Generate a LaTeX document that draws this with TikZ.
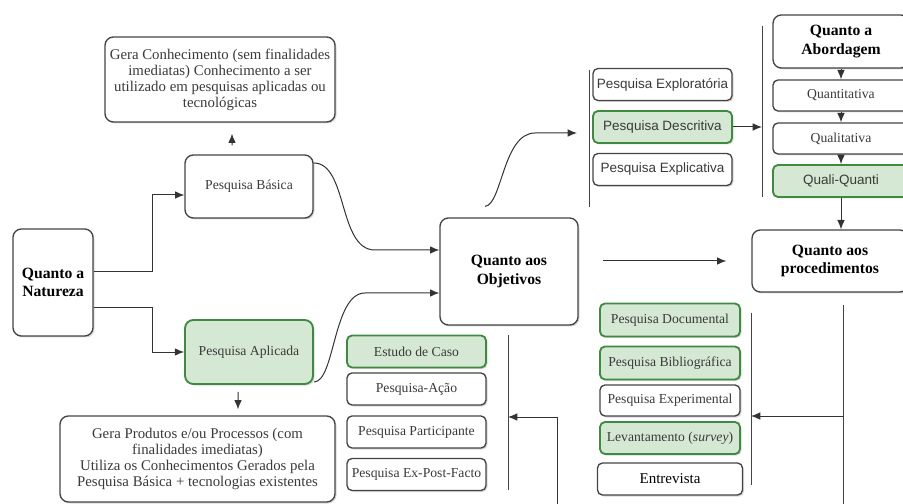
\documentclass[tikz,border=0pt]{standalone}
\usepackage{fontspec}
\setmainfont{Liberation Serif}
\setsansfont{Liberation Sans}
\usepackage{xcolor}
\usepackage{tikz}
\usetikzlibrary{shapes,arrows.meta,shadows}

\definecolor{boxline}{HTML}{444444}
\definecolor{boxtext}{HTML}{3A3A3A}
\definecolor{selfill}{HTML}{D5E8D4}
\definecolor{selline}{HTML}{3E8A3E}

\begin{document}
\begin{tikzpicture}[x=0.6pt, y=-0.6pt, node distance=25.5pt, auto]
	% % % % % % % % % % % % % % % % % % % % % % % % % % % % % %
	% Define styles
	\tikzstyle{block} = [rectangle, draw=boxline, fill=white, line width=0.8pt, rounded corners=3pt,
					     text=boxtext, align=center, inner sep=1pt, font=\fontsize{8.2}{9.5}\selectfont,
					     drop shadow={shadow xshift=0.9pt, shadow yshift=-0.9pt, opacity=0.3}]
	\tikzstyle{small} = [block, minimum width=83.4pt, minimum height=19.2pt]
	\tikzstyle{sans} = [font=\sffamily\fontsize{8.1}{9.5}\selectfont]
	\tikzstyle{big} = [block, rounded corners=5pt, font=\fontsize{8.9}{9.6}\selectfont]
	\tikzstyle{title} = [block, rounded corners=5pt, text=black, font=\bfseries\fontsize{9.4}{11}\selectfont]
	\tikzstyle{chosen} = [fill=selfill, draw=selline, line width=1.1pt]
	\tikzstyle{line} = [draw, -{Latex[length=5.6pt, width=4.6pt]}, line width=0.6pt, color=black!80]
	\tikzstyle{bar} = [draw, line width=0.6pt, color=boxline]

	\useasboundingbox (0,0) rectangle (903,504);
	\clip (0,0) rectangle (903,504);

	% % % % % % % % % % % % % % % % % % % % % % % % % % % % % %
	% Place nodes
	% natureza
	\node [title, minimum width=48pt, minimum height=64.2pt] (nat) at (53,282.5) {Quanto a\\ Natureza};
	\node [block, rounded corners=5pt, minimum width=76.8pt, minimum height=37.8pt] (pb) at (249,186.5) {Pesquisa Básica};
	\node [block, chosen, rounded corners=5pt, minimum width=76.8pt, minimum height=38.4pt] (pa) at (249,352) {Pesquisa Aplicada};
	\node [big, minimum width=138pt, minimum height=51pt] (gk) at (220,79.5)
		{Gera Conhecimento (sem finalidades\\ imediatas) Conhecimento a ser\\ utilizado em pesquisas aplicadas ou\\ tecnológicas};
	\node [big, minimum width=165pt, minimum height=51.6pt] (gp) at (197.5,459)
		{Gera Produtos e/ou Processos (com\\ finalidades imediatas)\\ Utiliza os Conhecimentos Gerados pela\\ Pesquisa Básica + tecnologias existentes};

	% objetivos
	\node [title, minimum width=82.8pt, minimum height=64.2pt] (obj) at (509,271.5) {Quanto aos\\ Objetivos};
	\node [small, sans] (exp) at (662.5,84.5) {Pesquisa Exploratória};
	\node [small, sans, chosen, below of=exp] (des) {Pesquisa Descritiva};
	\node [small, sans, below of=des] (xpl) {Pesquisa Explicativa};

	% abordagem
	\node [title, minimum width=81.6pt, minimum height=31.8pt] (abo) at (841,41.5) {Quanto a\\ Abordagem};
	\node [small, minimum width=81.6pt, minimum height=18.6pt, node distance=32.4pt, below of=abo] (qt) {Quantitativa};
	\node [small, minimum width=81.6pt, minimum height=18.6pt, node distance=25.8pt, below of=qt] (ql) {Qualitativa};
	\node [small, sans, chosen, minimum width=81.6pt, node distance=25.5pt, below of=ql] (qq) {Quali-Quanti};

	% procedimentos
	\node [title, minimum width=93.6pt, minimum height=37.2pt] (proc) at (830,261) {Quanto aos\\ procedimentos};
	\node [small, chosen, minimum width=84pt, minimum height=19.8pt] (doc) at (670,320) {Pesquisa Documental};
	\node [small, chosen, minimum width=84pt, minimum height=19.8pt, node distance=25.8pt, below of=doc] (bib) {Pesquisa Bibliográfica};
	\node [small, minimum width=84pt, minimum height=18.6pt, node distance=22.5pt, below of=bib] (xpm) {Pesquisa Experimental};
	\node [small, chosen, minimum width=84pt, node distance=22.5pt, below of=xpm] (lev) {Levantamento (\textit{survey})};
	\node [small, minimum width=87pt, text=black, font=\fontsize{9}{10}\selectfont, node distance=24.6pt, below of=lev] (ent) {Entrevista};

	% lower left
	\node [small, chosen] (est) at (416.5,351.5) {Estudo de Caso};
	\node [small, node distance=22.5pt, below of=est] (acao) {Pesquisa-Ação};
	\node [small, node distance=25.8pt, below of=acao] (part) {Pesquisa Participante};
	\node [small, node distance=25.5pt, below of=part] (epf) {Pesquisa Ex-Post-Facto};

	% brackets and free ends
	\coordinate (barA1) at (589,70);
	\coordinate (barA2) at (589,207);
	\coordinate (toA) at (577,133);
	\coordinate (barB1) at (762,26);
	\coordinate (barB2) at (762,197);
	\coordinate (barC1) at (751,313);
	\coordinate (barC2) at (751,485);
	\coordinate (procA) at (843,305);
	\coordinate (procB) at (843,510);
	\coordinate (hookC) at (843,416);
	\coordinate (barD1) at (508,335);
	\coordinate (barD2) at (508,490);
	\coordinate (hookD1) at (557,510);
	\coordinate (hookD2) at (557,417);

	% % % % % % % % % % % % % % % % % % % % % % % % % % % % % %
	% Draw edges
	\path [bar] (barA1) -- (barA2);
	\path [bar] (barB1) -- (barB2);
	\path [bar] (barC1) -- (barC2);
	\path [bar] (barD1) -- (barD2);
	% % natureza
	\path [line] ([yshift=6.3pt]nat.east) -- ++(59,0) |- ([yshift=-5.1pt]pb.west);
	\path [line] ([yshift=-15.3pt]nat.east) -- ++(59,0) |- (pa.west);
	\path [line, shorten <=5.4pt, shorten >=6.6pt] ([xshift=-10.2pt]pb.north) -- ([xshift=7.2pt]gk.south);
	\path [line, shorten <=4.2pt, shorten >=3.6pt] ([xshift=-6.6pt]pa.south) -- ([xshift=24.3pt]gp.north);
	% % to objetivos
	\path [line] ([yshift=14.1pt]pb.east) .. controls (348,163) and (338,250) .. (375,250) -- ([yshift=12.9pt]obj.west);
	\path [line] ([yshift=-18pt]pa.east) .. controls (335,382) and (333,293) .. (365,293) -- ([yshift=-12.9pt]obj.west);
	\path [line] ([xshift=-14.4pt, yshift=6.6pt]obj.north) .. controls (502,205) and (503,133) .. (535,133) -- (toA);
	% % abordagem
	\path [line] (des.east) -- (des.east -| barB1);
	\path [line] (abo) -- (qt);
	\path [line] (qt) -- (ql);
	\path [line] (ql) -- (qq);
	\path [line] (qq.south) -- (qq.south |- proc.north);
	% % procedimentos
	\path [line, shorten <=14.4pt, shorten >=15pt] (obj.east |- proc.west) -- (proc.west);
	\path [bar] (procA) -- (procB);
	\path [line] (hookC) -- (hookC -| barC1);
	\path [line] (hookD1) -- (hookD2) -- (hookD2 -| barD1);
\end{tikzpicture}
\end{document}
